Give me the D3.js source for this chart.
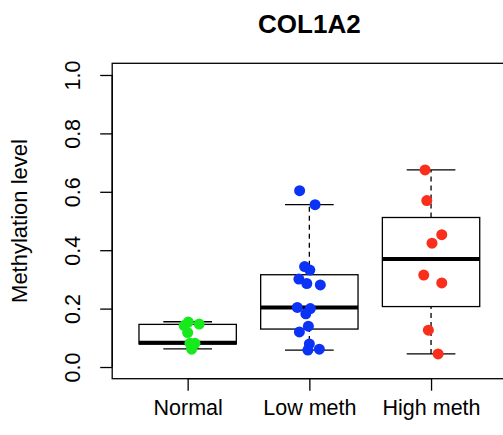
<!DOCTYPE html>
<html>
<head>
<meta charset="utf-8">
<script src="https://cdn.jsdelivr.net/npm/d3@7"></script>
<style>
  body { margin: 0; background: #fff; }
  svg text { font-family: "Liberation Sans", Arial, Helvetica, sans-serif; fill: #000; }
</style>
</head>
<body>
<div id="chart"></div>
<script>
// groups and point values
var groups = ["Normal", "Low meth", "High meth"];
var groupColors = ["#16ea1c", "#0b33f6", "#f92e1c"];

var normalValues = [0.154, 0.142, 0.147, 0.118, 0.081, 0.081, 0.061];
var lowValues = [0.604, 0.556, 0.344, 0.332, 0.301, 0.286, 0.281, 0.204, 0.200,
    0.182, 0.140, 0.120, 0.079, 0.058, 0.061];
var highValues = [0.675, 0.570, 0.453, 0.424, 0.315, 0.288, 0.126, 0.045];

// horizontal jitter of each point, in category units
var normalJitter = [0.005, -0.028, 0.095, 0.000, 0.019, 0.060, 0.033];
var lowJitter = [-0.080, 0.047, -0.039, 0.004, -0.086, -0.021, 0.090, -0.099, 0.008,
    -0.029, -0.008, -0.082, 0.000, -0.012, 0.082];
var highJitter = [-0.049, -0.035, 0.088, 0.008, -0.060, 0.088, -0.022, 0.058];

// box stats: lower whisker, Q1, median, Q3, upper whisker
var boxStats = [
    [0.062, 0.079, 0.083, 0.146, 0.155],
    [0.058, 0.130, 0.204, 0.316, 0.556],
    [0.045, 0.207, 0.370, 0.512, 0.675]
];

var yTicks = [0.0, 0.2, 0.4, 0.6, 0.8, 1.0];
var title = "COL1A2";
var yLabel = "Methylation level";

var W = 503, H = 435;
var margin = {top: 63.3, right: -3.5, bottom: 56.3, left: 112.2};

var svg = d3.select("#chart").append("svg")
    .attr("width", W)
    .attr("height", H);

var x = d3.scalePoint()
    .domain(groups)
    .range([margin.left, W - margin.right])
    .padding(0.62);
var step = x.step();

var y = d3.scaleLinear()
    .domain([-0.04, 1.04])
    .range([H - margin.bottom, margin.top]);

var font = 21.5;

// boxes
var boxW = step * 0.8;
var capW = boxW * 0.5;
boxStats.forEach(function (s, i) {
    var cx = x(groups[i]);
    var g = svg.append("g");
    // whiskers (dashed)
    g.append("line")
        .attr("x1", cx).attr("x2", cx)
        .attr("y1", y(s[3])).attr("y2", y(s[4]))
        .attr("stroke", "#000").attr("stroke-width", 1.3)
        .attr("stroke-dasharray", "5,4");
    g.append("line")
        .attr("x1", cx).attr("x2", cx)
        .attr("y1", y(s[0])).attr("y2", y(s[1]))
        .attr("stroke", "#000").attr("stroke-width", 1.3)
        .attr("stroke-dasharray", "5,4");
    // caps
    [s[0], s[4]].forEach(function (v) {
        g.append("line")
            .attr("x1", cx - capW / 2).attr("x2", cx + capW / 2)
            .attr("y1", y(v)).attr("y2", y(v))
            .attr("stroke", "#000").attr("stroke-width", 1.3);
    });
    g.append("rect")
        .attr("x", cx - boxW / 2)
        .attr("y", y(s[3]))
        .attr("width", boxW)
        .attr("height", y(s[1]) - y(s[3]))
        .attr("fill", "#fff")
        .attr("stroke", "#000").attr("stroke-width", 1.3);
    g.append("line")
        .attr("x1", cx - boxW / 2).attr("x2", cx + boxW / 2)
        .attr("y1", y(s[2])).attr("y2", y(s[2]))
        .attr("stroke", "#000").attr("stroke-width", 4);
});

// points
var pointSets = [
    {values: normalValues, jitter: normalJitter},
    {values: lowValues, jitter: lowJitter},
    {values: highValues, jitter: highJitter}
];
pointSets.forEach(function (p, i) {
    svg.append("g")
        .selectAll("circle")
        .data(p.values)
        .enter().append("circle")
        .attr("cx", function (d, j) { return x(groups[i]) + p.jitter[j] * step; })
        .attr("cy", function (d) { return y(d); })
        .attr("r", 5.5)
        .attr("fill", groupColors[i]);
});

// plot frame
svg.append("rect")
    .attr("x", margin.left)
    .attr("y", margin.top)
    .attr("width", W - margin.right - margin.left)
    .attr("height", H - margin.bottom - margin.top)
    .attr("fill", "none")
    .attr("stroke", "#000").attr("stroke-width", 1.3);

// y axis
var yAxis = svg.append("g")
    .attr("transform", "translate(" + margin.left + ",0)")
    .call(d3.axisLeft(y).tickValues(yTicks).tickSize(12).tickFormat(d3.format(".1f")));
yAxis.select(".domain")
    .attr("d", "M0," + y(0) + "V" + y(1))
    .attr("stroke-width", 1.3);
yAxis.selectAll(".tick line").attr("stroke-width", 1.3);
yAxis.selectAll(".tick text").remove();
yAxis.selectAll(".tick").append("text")
    .attr("transform", "translate(-32,0) rotate(-90)")
    .attr("text-anchor", "middle")
    .attr("font-size", font)
    .text(function (d) { return d3.format(".1f")(d); });

// x axis
var xAxis = svg.append("g")
    .attr("transform", "translate(0," + (H - margin.bottom) + ")")
    .call(d3.axisBottom(x).tickSize(12));
xAxis.select(".domain")
    .attr("d", "M" + x(groups[0]) + ",0H" + x(groups[2]))
    .attr("stroke-width", 1.3);
xAxis.selectAll(".tick line").attr("stroke-width", 1.3);
xAxis.selectAll(".tick text")
    .attr("y", 36.3)
    .attr("dy", null)
    .attr("font-size", font)
    .attr("font-family", null);

// title and y label
svg.append("text")
    .attr("x", (margin.left + W - margin.right) / 2)
    .attr("y", 33)
    .attr("text-anchor", "middle")
    .attr("font-size", 26)
    .attr("font-weight", "bold")
    .text(title);

svg.append("text")
    .attr("transform", "translate(27," + ((margin.top + H - margin.bottom) / 2) + ") rotate(-90)")
    .attr("text-anchor", "middle")
    .attr("font-size", 22)
    .text(yLabel);
</script>
</body>
</html>
